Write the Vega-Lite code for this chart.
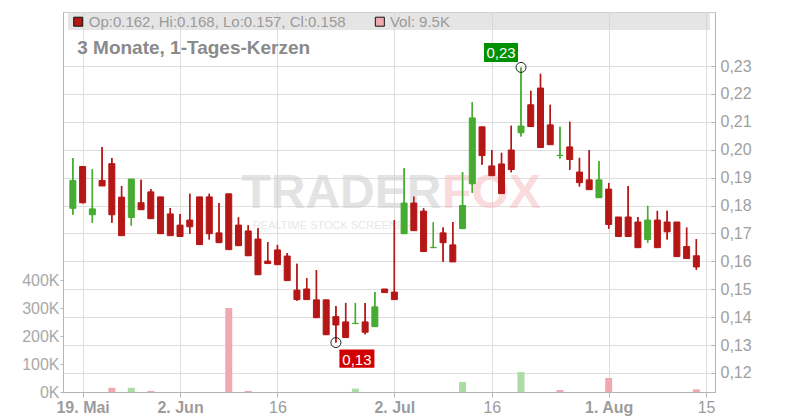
{
  "$schema": "https://vega.github.io/schema/vega-lite/v6.json",
  "width": 652,
  "height": 380,
  "autosize": {"type": "none"},
  "padding": {"left": 63, "top": 12, "right": 85, "bottom": 28},
  "background": "#ffffff",
  "config": {
    "view": {"stroke": "#cccccc", "strokeWidth": 1},
    "font": "Liberation Sans",
    "axis": {
      "labelFont": "Liberation Sans",
      "labelFontSize": 16,
      "labelColor": "#a0a0a0",
      "domainColor": "#b4b4b4",
      "tickColor": "#b4b4b4",
      "gridColor": "#dedede",
      "gridWidth": 1,
      "title": null
    }
  },
  "datasets": {
    "ohlc": [
      {"i": 0, "date": "2025-05-16", "o": 0.179, "h": 0.197, "l": 0.1767, "c": 0.189, "v": 0},
      {"i": 1, "date": "2025-05-19", "o": 0.194, "h": 0.194, "l": 0.1808, "c": 0.181, "v": 0},
      {"i": 2, "date": "2025-05-20", "o": 0.1767, "h": 0.193, "l": 0.1738, "c": 0.1788, "v": 0},
      {"i": 3, "date": "2025-05-21", "o": 0.189, "h": 0.201, "l": 0.187, "c": 0.187, "v": 0},
      {"i": 4, "date": "2025-05-22", "o": 0.195, "h": 0.197, "l": 0.1738, "c": 0.1767, "v": 15000},
      {"i": 5, "date": "2025-05-23", "o": 0.183, "h": 0.187, "l": 0.1692, "c": 0.1692, "v": 0},
      {"i": 6, "date": "2025-05-26", "o": 0.1757, "h": 0.1895, "l": 0.1728, "c": 0.1895, "v": 15000},
      {"i": 7, "date": "2025-05-27", "o": 0.181, "h": 0.1892, "l": 0.1785, "c": 0.1785, "v": 0},
      {"i": 8, "date": "2025-05-28", "o": 0.1849, "h": 0.1859, "l": 0.1753, "c": 0.1753, "v": 4000},
      {"i": 9, "date": "2025-05-29", "o": 0.1831, "h": 0.1831, "l": 0.1699, "c": 0.1699, "v": 0},
      {"i": 10, "date": "2025-05-30", "o": 0.177, "h": 0.1791, "l": 0.1692, "c": 0.1692, "v": 0},
      {"i": 11, "date": "2025-06-02", "o": 0.173, "h": 0.177, "l": 0.1689, "c": 0.1689, "v": 0},
      {"i": 12, "date": "2025-06-03", "o": 0.1748, "h": 0.1842, "l": 0.1699, "c": 0.1724, "v": 0},
      {"i": 13, "date": "2025-06-04", "o": 0.1831, "h": 0.1831, "l": 0.166, "c": 0.166, "v": 0},
      {"i": 14, "date": "2025-06-05", "o": 0.1831, "h": 0.1842, "l": 0.1678, "c": 0.1699, "v": 0},
      {"i": 15, "date": "2025-06-06", "o": 0.1702, "h": 0.1809, "l": 0.1667, "c": 0.1667, "v": 0},
      {"i": 16, "date": "2025-06-09", "o": 0.1842, "h": 0.1842, "l": 0.1642, "c": 0.1642, "v": 300000},
      {"i": 17, "date": "2025-06-10", "o": 0.173, "h": 0.1758, "l": 0.1656, "c": 0.1656, "v": 0},
      {"i": 18, "date": "2025-06-11", "o": 0.1709, "h": 0.1729, "l": 0.162, "c": 0.162, "v": 4000},
      {"i": 19, "date": "2025-06-12", "o": 0.168, "h": 0.1719, "l": 0.1552, "c": 0.1552, "v": 0},
      {"i": 20, "date": "2025-06-13", "o": 0.1601, "h": 0.1669, "l": 0.1592, "c": 0.1592, "v": 0},
      {"i": 21, "date": "2025-06-16", "o": 0.1641, "h": 0.1659, "l": 0.1588, "c": 0.1588, "v": 0},
      {"i": 22, "date": "2025-06-17", "o": 0.1619, "h": 0.163, "l": 0.1531, "c": 0.1531, "v": 0},
      {"i": 23, "date": "2025-06-18", "o": 0.1497, "h": 0.1591, "l": 0.1459, "c": 0.1463, "v": 0},
      {"i": 24, "date": "2025-06-19", "o": 0.1501, "h": 0.154, "l": 0.1463, "c": 0.1463, "v": 0},
      {"i": 25, "date": "2025-06-20", "o": 0.1462, "h": 0.1569, "l": 0.1398, "c": 0.1398, "v": 0},
      {"i": 26, "date": "2025-06-23", "o": 0.1462, "h": 0.1462, "l": 0.1337, "c": 0.1337, "v": 0},
      {"i": 27, "date": "2025-06-24", "o": 0.1402, "h": 0.144, "l": 0.1309, "c": 0.1372, "v": 0},
      {"i": 28, "date": "2025-06-25", "o": 0.1383, "h": 0.1451, "l": 0.1327, "c": 0.1327, "v": 0},
      {"i": 29, "date": "2025-06-26", "o": 0.1377, "h": 0.1451, "l": 0.1377, "c": 0.1378, "v": 12000},
      {"i": 30, "date": "2025-06-27", "o": 0.1383, "h": 0.1451, "l": 0.1339, "c": 0.1346, "v": 0},
      {"i": 31, "date": "2025-06-30", "o": 0.1366, "h": 0.149, "l": 0.1366, "c": 0.1437, "v": 0},
      {"i": 32, "date": "2025-07-01", "o": 0.1501, "h": 0.1501, "l": 0.1488, "c": 0.1488, "v": 0},
      {"i": 33, "date": "2025-07-02", "o": 0.149, "h": 0.1748, "l": 0.1463, "c": 0.1463, "v": 0},
      {"i": 34, "date": "2025-07-03", "o": 0.1699, "h": 0.1934, "l": 0.1699, "c": 0.1809, "v": 0},
      {"i": 35, "date": "2025-07-04", "o": 0.1809, "h": 0.1832, "l": 0.171, "c": 0.171, "v": 0},
      {"i": 36, "date": "2025-07-07", "o": 0.178, "h": 0.179, "l": 0.1635, "c": 0.1635, "v": 0},
      {"i": 37, "date": "2025-07-08", "o": 0.1649, "h": 0.174, "l": 0.1649, "c": 0.165, "v": 0},
      {"i": 38, "date": "2025-07-09", "o": 0.1702, "h": 0.1721, "l": 0.1599, "c": 0.1667, "v": 0},
      {"i": 39, "date": "2025-07-10", "o": 0.1659, "h": 0.1741, "l": 0.1598, "c": 0.1598, "v": 0},
      {"i": 40, "date": "2025-07-11", "o": 0.1717, "h": 0.192, "l": 0.1717, "c": 0.18, "v": 36000},
      {"i": 41, "date": "2025-07-14", "o": 0.1878, "h": 0.2171, "l": 0.1846, "c": 0.2114, "v": 0},
      {"i": 42, "date": "2025-07-15", "o": 0.2082, "h": 0.2082, "l": 0.1946, "c": 0.1979, "v": 0},
      {"i": 43, "date": "2025-07-16", "o": 0.1942, "h": 0.1999, "l": 0.1907, "c": 0.1907, "v": 0},
      {"i": 44, "date": "2025-07-17", "o": 0.1949, "h": 0.1989, "l": 0.1843, "c": 0.1843, "v": 0},
      {"i": 45, "date": "2025-07-18", "o": 0.1999, "h": 0.2086, "l": 0.1919, "c": 0.1929, "v": 0},
      {"i": 46, "date": "2025-07-21", "o": 0.2061, "h": 0.2295, "l": 0.2047, "c": 0.2085, "v": 71000},
      {"i": 47, "date": "2025-07-22", "o": 0.2161, "h": 0.2211, "l": 0.2083, "c": 0.2083, "v": 0},
      {"i": 48, "date": "2025-07-23", "o": 0.2221, "h": 0.2272, "l": 0.2008, "c": 0.2008, "v": 0},
      {"i": 49, "date": "2025-07-24", "o": 0.2089, "h": 0.2161, "l": 0.2018, "c": 0.2018, "v": 0},
      {"i": 50, "date": "2025-07-25", "o": 0.1979, "h": 0.2082, "l": 0.1969, "c": 0.198, "v": 7000},
      {"i": 51, "date": "2025-07-28", "o": 0.201, "h": 0.21, "l": 0.1928, "c": 0.1965, "v": 0},
      {"i": 52, "date": "2025-07-29", "o": 0.192, "h": 0.1971, "l": 0.1868, "c": 0.1882, "v": 0},
      {"i": 53, "date": "2025-07-30", "o": 0.1892, "h": 0.1999, "l": 0.1857, "c": 0.1857, "v": 0},
      {"i": 54, "date": "2025-07-31", "o": 0.1828, "h": 0.196, "l": 0.1828, "c": 0.1892, "v": 0},
      {"i": 55, "date": "2025-08-01", "o": 0.1859, "h": 0.1881, "l": 0.1717, "c": 0.1732, "v": 50000},
      {"i": 56, "date": "2025-08-04", "o": 0.1759, "h": 0.1759, "l": 0.1689, "c": 0.1689, "v": 0},
      {"i": 57, "date": "2025-08-05", "o": 0.1759, "h": 0.187, "l": 0.1689, "c": 0.1689, "v": 0},
      {"i": 58, "date": "2025-08-06", "o": 0.1741, "h": 0.1759, "l": 0.1649, "c": 0.1649, "v": 0},
      {"i": 59, "date": "2025-08-07", "o": 0.1678, "h": 0.1799, "l": 0.1667, "c": 0.1748, "v": 0},
      {"i": 60, "date": "2025-08-08", "o": 0.1748, "h": 0.1781, "l": 0.1649, "c": 0.1649, "v": 0},
      {"i": 61, "date": "2025-08-11", "o": 0.1741, "h": 0.1781, "l": 0.1678, "c": 0.1706, "v": 0},
      {"i": 62, "date": "2025-08-12", "o": 0.1741, "h": 0.1741, "l": 0.1617, "c": 0.1617, "v": 0},
      {"i": 63, "date": "2025-08-13", "o": 0.1653, "h": 0.1721, "l": 0.1609, "c": 0.161, "v": 0},
      {"i": 64, "date": "2025-08-14", "o": 0.162, "h": 0.168, "l": 0.157, "c": 0.158, "v": 9500}
    ],
    "ann": [
      {"i": 46, "p": 0.2295, "t": "0,23", "k": "hi"},
      {"i": 27, "p": 0.1309, "t": "0,13", "k": "lo"}
    ],
    "one": [{"n": 1}]
  },
  "layer": [
    {
      "data": {"name": "ohlc"},
      "transform": [
        {"window": [{"op": "lag", "field": "c", "as": "pc"}], "sort": [{"field": "i", "order": "ascending"}]},
        {"calculate": "datum.pc == null || datum.c >= datum.pc ? 'up' : 'down'", "as": "vdir"}
      ],
      "mark": {"type": "bar", "width": 7},
      "encoding": {
        "x": {
          "field": "i",
          "type": "quantitative",
          "scale": {"domain": [-0.5, 65.4], "nice": false, "zero": false},
          "axis": {
            "orient": "bottom",
            "values": [1, 11, 21, 33, 43, 55, 65],
            "labelExpr": "datum.value==1?'19. Mai':datum.value==11?'2. Jun':datum.value==33?'2. Jul':datum.value==55?'1. Aug':datum.value==65?'15':'16'",
            "labelFontWeight": {"condition": {"test": "datum.value==21||datum.value==43||datum.value==65", "value": "normal"}, "value": "bold"},
            "labelColor": "#9c9c9c",
            "grid": true,
            "tickSize": 5,
            "labelPadding": 2,
            "labelFlush": false,
            "labelOverlap": false
          }
        },
        "y": {
          "field": "v",
          "type": "quantitative",
          "scale": {"domain": [0, 1357143], "nice": false, "zero": true},
          "axis": {
            "orient": "left",
            "values": [0, 100000, 200000, 300000, 400000],
            "labelExpr": "format(datum.value/1000,'d') + 'K'",
            "grid": false,
            "tickSize": 3,
            "labelPadding": 1,
            "labelOverlap": false,
            "labelColor": "#a8a8a8"
          }
        },
        "color": {
          "field": "vdir",
          "type": "nominal",
          "scale": {"domain": ["up", "down"], "range": ["#aadca4", "#f0a9b1"]},
          "legend": null
        }
      }
    },
    {
      "layer": [
        {
          "data": {"name": "ohlc"},
          "transform": [{"calculate": "datum.c >= datum.o ? 'up' : 'down'", "as": "dir"}],
          "mark": {"type": "rule", "strokeWidth": 1.4},
          "encoding": {
            "x": {"field": "i", "type": "quantitative"},
            "y": {
              "field": "l",
              "type": "quantitative",
              "scale": {"domain": [0.11319, 0.24935], "nice": false, "zero": false},
              "axis": {
                "orient": "right",
                "values": [0.12, 0.13, 0.14, 0.15, 0.16, 0.17, 0.18, 0.19, 0.2, 0.21, 0.22, 0.23],
                "tickCount": 12,
                "labelExpr": "replace(format(datum.value,'.2f'),'.',',')",
                "grid": true,
                "tickSize": -4,
                "labelPadding": 9,
                "labelOverlap": false,
                "labelFlush": false,
                "labelColor": "#a0a0a0"
              }
            },
            "y2": {"field": "h"},
            "color": {
              "field": "dir",
              "type": "nominal",
              "scale": {"domain": ["up", "down"], "range": ["#46ab30", "#b51616"]},
              "legend": null
            }
          }
        },
        {
          "data": {"name": "one"},
          "mark": {"type": "rect", "color": "#d4d4d4", "opacity": 0.6},
          "encoding": {
            "x": {"datum": -0.5, "type": "quantitative"},
            "x2": {"datum": 65.4},
            "y": {"datum": 0.24935, "type": "quantitative"},
            "y2": {"datum": 0.2429}
          }
        },
        {
          "data": {"name": "one"},
          "mark": {"type": "text", "text": "TRADER", "font": "Liberation Sans", "fontSize": 48, "fontWeight": "bold", "color": "#d2d2d2", "opacity": 0.6, "align": "left", "baseline": "alphabetic"},
          "encoding": {
            "x": {"datum": 17.3, "type": "quantitative"},
            "y": {"datum": 0.17901, "type": "quantitative"}
          }
        },
        {
          "data": {"name": "one"},
          "mark": {"type": "text", "text": "FOX", "font": "Liberation Sans", "fontSize": 48, "fontWeight": "bold", "color": "#f7b9bf", "opacity": 0.5, "align": "left", "baseline": "alphabetic"},
          "encoding": {
            "x": {"datum": 37.9, "type": "quantitative"},
            "y": {"datum": 0.17901, "type": "quantitative"}
          }
        },
        {
          "data": {"name": "one"},
          "mark": {"type": "text", "text": "REALTIME STOCK SCREENER", "font": "Liberation Sans", "fontSize": 11, "color": "#d8d8d8", "opacity": 0.6, "align": "left", "baseline": "alphabetic"},
          "encoding": {
            "x": {"datum": 18.48, "type": "quantitative"},
            "y": {"datum": 0.1716, "type": "quantitative"}
          }
        },
        {
          "data": {"name": "ohlc"},
          "transform": [{"calculate": "datum.c >= datum.o ? 'up' : 'down'", "as": "dir"}],
          "mark": {"type": "rule", "strokeWidth": 1.4},
          "encoding": {
            "x": {"field": "i", "type": "quantitative"},
            "y": {"field": "l", "type": "quantitative"},
            "y2": {"field": "h"},
            "color": {"field": "dir", "type": "nominal", "legend": null}
          }
        },
        {
          "data": {"name": "ohlc"},
          "transform": [{"calculate": "datum.c >= datum.o ? 'up' : 'down'", "as": "dir"}],
          "mark": {"type": "bar", "width": 6, "strokeWidth": 1},
          "encoding": {
            "x": {"field": "i", "type": "quantitative"},
            "y": {"field": "o", "type": "quantitative"},
            "y2": {"field": "c"},
            "color": {"field": "dir", "type": "nominal", "legend": null},
            "stroke": {"field": "dir", "type": "nominal", "scale": {"domain": ["up", "down"], "range": ["#46ab30", "#b51616"]}, "legend": null}
          }
        },
        {
          "data": {"name": "ann"},
          "mark": {"type": "point", "shape": "circle", "size": 100, "filled": false, "stroke": "#222222", "strokeWidth": 1, "opacity": 1},
          "encoding": {
            "x": {"field": "i", "type": "quantitative"},
            "y": {"field": "p", "type": "quantitative"}
          }
        },
        {
          "data": {"name": "ann"},
          "transform": [{"filter": "datum.k == 'hi'"}],
          "mark": {"type": "point", "shape": "M-1,-0.56H1V0.56H-1Z", "size": 1156, "filled": true, "fill": "#009000", "strokeWidth": 0, "opacity": 1, "xOffset": -20, "yOffset": -15},
          "encoding": {"x": {"field": "i", "type": "quantitative"}, "y": {"field": "p", "type": "quantitative"}}
        },
        {
          "data": {"name": "ann"},
          "transform": [{"filter": "datum.k == 'hi'"}],
          "mark": {"type": "text", "font": "Liberation Sans", "fontSize": 15, "color": "#ffffff", "align": "center", "baseline": "middle", "xOffset": -20, "yOffset": -14},
          "encoding": {"x": {"field": "i", "type": "quantitative"}, "y": {"field": "p", "type": "quantitative"}, "text": {"field": "t"}}
        },
        {
          "data": {"name": "ann"},
          "transform": [{"filter": "datum.k == 'lo'"}],
          "mark": {"type": "point", "shape": "M-1,-0.52H1V0.52H-1Z", "size": 1225, "filled": true, "fill": "#d20000", "strokeWidth": 0, "opacity": 1, "xOffset": 21, "yOffset": 16},
          "encoding": {"x": {"field": "i", "type": "quantitative"}, "y": {"field": "p", "type": "quantitative"}}
        },
        {
          "data": {"name": "ann"},
          "transform": [{"filter": "datum.k == 'lo'"}],
          "mark": {"type": "text", "font": "Liberation Sans", "fontSize": 15, "color": "#ffffff", "align": "center", "baseline": "middle", "xOffset": 21, "yOffset": 17},
          "encoding": {"x": {"field": "i", "type": "quantitative"}, "y": {"field": "p", "type": "quantitative"}, "text": {"field": "t"}}
        },
        {
          "data": {"name": "one"},
          "mark": {"type": "point", "shape": "square", "size": 81, "filled": true, "fill": "#b51616", "stroke": "#111111", "strokeWidth": 1, "opacity": 1},
          "encoding": {
            "x": {"datum": 0.546, "type": "quantitative"},
            "y": {"datum": 0.24587, "type": "quantitative"}
          }
        },
        {
          "data": {"name": "one"},
          "mark": {"type": "text", "text": "Op:0.162, Hi:0.168, Lo:0.157, Cl:0.158", "font": "Liberation Sans", "fontSize": 15, "color": "#9a9a9a", "align": "left", "baseline": "alphabetic"},
          "encoding": {
            "x": {"datum": 1.627, "type": "quantitative"},
            "y": {"datum": 0.24387, "type": "quantitative"}
          }
        },
        {
          "data": {"name": "one"},
          "mark": {"type": "point", "shape": "square", "size": 81, "filled": true, "fill": "#f0a9b1", "stroke": "#111111", "strokeWidth": 1, "opacity": 1},
          "encoding": {
            "x": {"datum": 31.51, "type": "quantitative"},
            "y": {"datum": 0.24587, "type": "quantitative"}
          }
        },
        {
          "data": {"name": "one"},
          "mark": {"type": "text", "text": "Vol: 9.5K", "font": "Liberation Sans", "fontSize": 15, "color": "#9a9a9a", "align": "left", "baseline": "alphabetic"},
          "encoding": {
            "x": {"datum": 32.54, "type": "quantitative"},
            "y": {"datum": 0.24387, "type": "quantitative"}
          }
        },
        {
          "data": {"name": "one"},
          "mark": {"type": "text", "text": "3 Monate, 1-Tages-Kerzen", "font": "Liberation Sans", "fontSize": 19, "fontWeight": "bold", "color": "#8a8a8a", "align": "left", "baseline": "alphabetic"},
          "encoding": {
            "x": {"datum": 0.445, "type": "quantitative"},
            "y": {"datum": 0.23419, "type": "quantitative"}
          }
        }
      ]
    }
  ],
  "resolve": {"scale": {"y": "independent", "color": "independent"}}
}
